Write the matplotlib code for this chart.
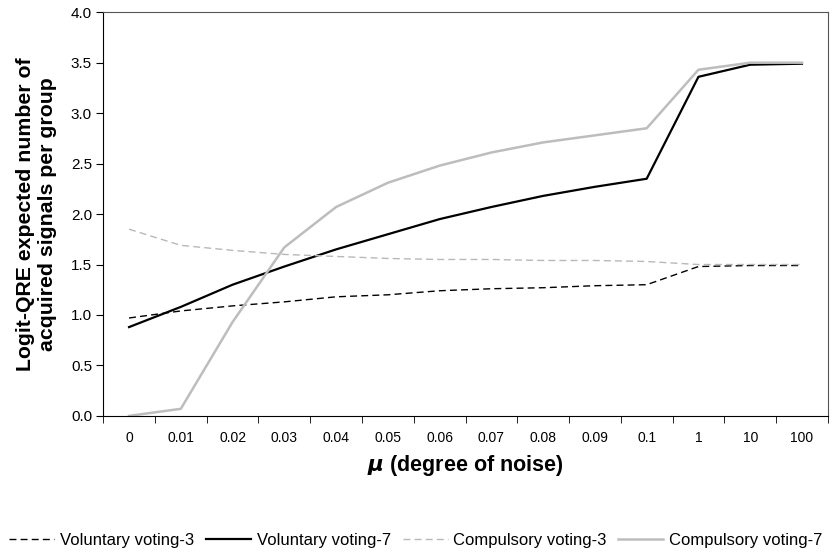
import numpy as np
import matplotlib.pyplot as plt

plt.rcParams['font.family'] = ['Liberation Sans', 'DejaVu Sans']

# categories on the x axis
mu_labels = ["0", "0.01", "0.02", "0.03", "0.04", "0.05", "0.06", "0.07",
             "0.08", "0.09", "0.1", "1", "10", "100"]

# series values
voluntary_3 = [0.97, 1.04, 1.09, 1.13, 1.18, 1.20, 1.24, 1.26, 1.27, 1.29, 1.30, 1.48, 1.49, 1.49]
voluntary_7 = [0.88, 1.08, 1.30, 1.48, 1.65, 1.80, 1.95, 2.07, 2.18, 2.27, 2.35, 3.36, 3.48, 3.49]
compulsory_3 = [1.85, 1.69, 1.64, 1.60, 1.58, 1.56, 1.55, 1.55, 1.54, 1.54, 1.53, 1.50, 1.50, 1.50]
compulsory_7 = [0.00, 0.07, 0.93, 1.67, 2.07, 2.31, 2.48, 2.61, 2.71, 2.78, 2.85, 3.43, 3.50, 3.50]

x = np.arange(len(mu_labels))

fig = plt.figure(figsize=(8.32, 5.56), dpi=100)
ax = fig.add_axes([0.124, 0.252, 0.871, 0.726])

ax.plot(x, voluntary_3, color='black', lw=1.0, ls=(0, (5, 3)), label='Voluntary voting-3')
ax.plot(x, voluntary_7, color='black', lw=1.6, label='Voluntary voting-7')
ax.plot(x, compulsory_3, color='#b8b8b8', lw=1.0, ls=(0, (5, 3)), label='Compulsory voting-3')
ax.plot(x, compulsory_7, color='#bdbdbd', lw=1.8, label='Compulsory voting-7')

#axes
ax.set_xlim(-0.5, len(mu_labels) - 0.5)
ax.set_ylim(0, 4.0)
ax.set_yticks(np.arange(0, 4.01, 0.5))
ax.set_yticklabels(["%.1f" % v for v in np.arange(0, 4.01, 0.5)])
ax.set_xticks(x)
ax.set_xticklabels(mu_labels)
ax.set_xticks(np.arange(-0.5, len(mu_labels)), minor=True)
ax.tick_params(axis='x', which='major', length=0, pad=11, labelsize=10)
ax.tick_params(axis='x', which='minor', length=5, direction='out', color='black')
ax.tick_params(axis='y', length=5, direction='out', labelsize=11, pad=3)
ax.spines['left'].set_color('black')
ax.spines['bottom'].set_color('black')
ax.spines['top'].set_color('#555555')
ax.spines['right'].set_color('#555555')

ax.set_ylabel("Logit-QRE expected number of\nacquired signals per group",
              fontsize=15.3, fontweight='bold')
ax.yaxis.set_label_coords(-0.064, 0.5)
ax.set_xlabel(r"$\boldsymbol{\mu}$ (degree of noise)", fontsize=15.5, fontweight='bold', labelpad=6)

fig.legend(loc='center', bbox_to_anchor=(0.5, 1 - 540 / 556), ncol=4, frameon=False,
           fontsize=12, handlelength=2.7, columnspacing=0.7, handletextpad=0.35)

plt.savefig('out.png')
